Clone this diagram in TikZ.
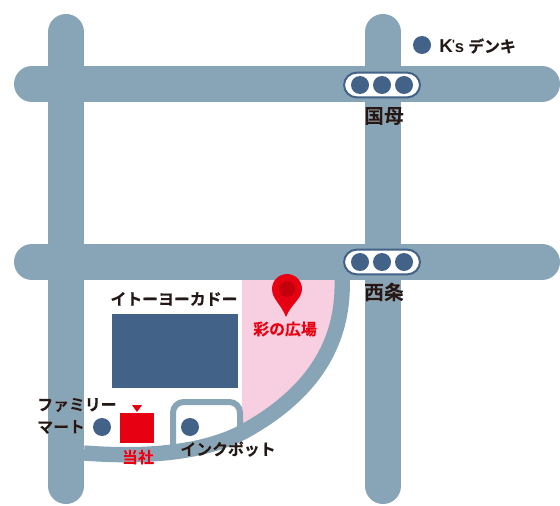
\documentclass[tikz,border=0pt]{standalone}
\usepackage{fontspec}
\usepackage[outline]{contour}
\newfontfamily\cjk{Noto Sans CJK JP}[BoldFont={Noto Sans CJK JP Bold},BoldFeatures={FakeBold=0.4}]
\newfontfamily\lat{Liberation Sans}
\definecolor{road}{HTML}{87A5B6}
\definecolor{navy}{HTML}{426387}
\definecolor{pinkzone}{HTML}{F7CFE1}
\definecolor{mapred}{HTML}{E60012}
\definecolor{pindark}{HTML}{C4000D}
\definecolor{ink}{HTML}{231815}
\contourlength{1pt}
\contournumber{24}
\newcommand{\halo}[1]{\contour{white}{#1}}
\tikzset{
  x=0.75pt,y=-0.75pt,
  mainroad/.style={draw=road,line width=27pt,line cap=round},
  curveroad/.style={draw=road,line width=11.5pt},
  sideroad/.style={draw=road,line width=4.5pt,rounded corners=8pt},
  dot/.style={circle,fill=navy,inner sep=0pt,minimum size=13.5pt},
  pill/.style={rounded corners=9.5pt,draw=navy,line width=1.5pt,fill=white,minimum width=57pt,minimum height=18.5pt,inner sep=0pt},
  lab/.style={font=\cjk\bfseries\fontsize{11.9pt}{14pt}\selectfont,text=ink,inner sep=0pt},
  bigl/.style={font=\cjk\bfseries\fontsize{14.8pt}{17pt}\selectfont,text=ink,inner sep=0pt},
  redl/.style={font=\cjk\bfseries\fontsize{11.9pt}{14pt}\selectfont,text=mapred,inner sep=0pt},
}
\begin{document}
\begin{tikzpicture}
\useasboundingbox (0,0) rectangle (560,506);
% pink zone
\fill[pinkzone] (242,278) -- (342,278) .. controls (345,335) and (320,390) .. (242,432) -- cycle;
% roads
\draw[mainroad] (66,32) -- (66,486);
\draw[mainroad] (383,32) -- (383,486);
\draw[mainroad] (32,84) -- (542,84);
\draw[mainroad] (32,262) -- (542,262);
\draw[curveroad] (342,275) .. controls (345,335) and (320,390) .. (243,432) .. controls (205,452) and (150,458) .. (84,453);
\draw[sideroad] (173,450) -- (173,402) -- (240,402) -- (240,432);
% building and office
\node[fill=navy,minimum width=94.5pt,minimum height=55.5pt,inner sep=0pt] (yokado) at (175,351) {};
\node[fill=mapred,minimum width=25.5pt,minimum height=22.5pt,inner sep=0pt] (office) at (137,428) {};
\fill[mapred] (132,405) -- (142,405) -- (137,412) -- cycle;
% signals
\node[pill] (sig1) at (382,85) {};
\node[pill] (sig2) at (382,262) {};
\foreach \s/\y in {a/85,b/262}{
  \node[dot] (\s1) at (360,\y) {};
  \node[dot] (\s2) at (382,\y) {};
  \node[dot] (\s3) at (404,\y) {};
}
% spots
\node[dot] (ks) at (422,45) {};
\node[dot] (fm) at (102,427) {};
\node[dot] (ink) at (190,427) {};
% pin
\fill[mapred] (286,317) .. controls (281,304) and (272,299) .. (272,289) arc[start angle=180,end angle=0,radius=11.25pt] .. controls (302,299) and (291,304) .. (286,317) -- cycle;
\fill[pindark] (287,289) circle[radius=6pt];
% labels
\node[lab,anchor=west] (kst) at (439,46) {{\lat\bfseries\fontsize{14pt}{14pt}\selectfont K\raisebox{3pt}{\fontsize{9pt}{9pt}\selectfont\kern-0.5pt\textquotesingle}\fontsize{12.5pt}{14pt}\selectfont s}\hspace{3pt}デンキ};
\node[bigl] (kokubo) at (384,116) {\halo{国母}};
\node[bigl] (saijo) at (384,292) {\halo{西条}};
\node[lab] (ito) at (174,299) {\halo{イトーヨーカドー}};
\node[redl] (plaza) at (285,329) {\halo{彩の広場}};
\node[lab,anchor=west] (fam1) at (37,405) {\halo{ファミリー}};
\node[lab,anchor=west] (fam2) at (37,427) {\halo{マート}};
\node[redl] (tosha) at (138,457) {\halo{当社}};
\node[lab] (inkpot) at (228,449) {\halo{インクポット}};
\end{tikzpicture}
\end{document}
